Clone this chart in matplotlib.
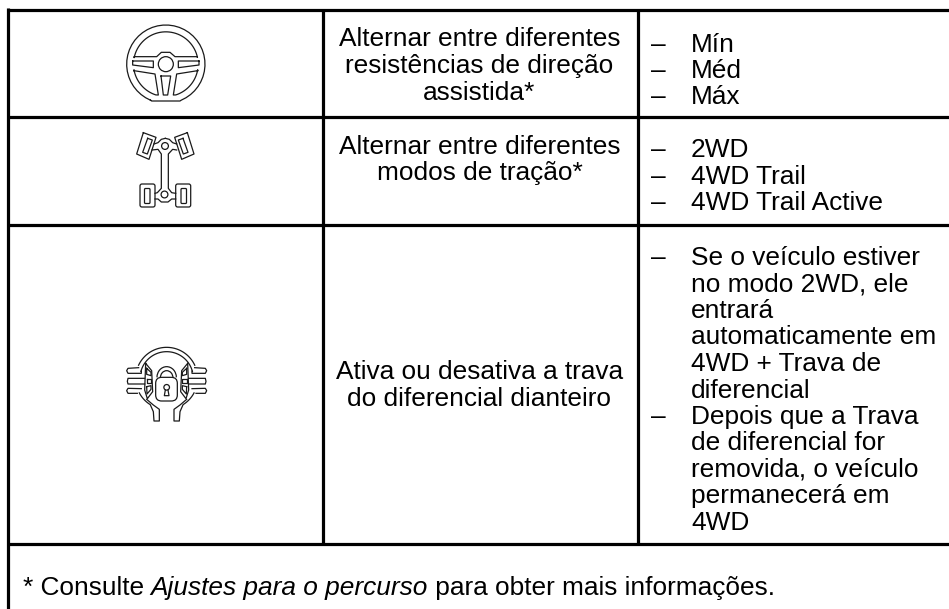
import matplotlib
matplotlib.use('Agg')
import matplotlib.pyplot as plt
from matplotlib.patches import Circle, FancyBboxPatch, Arc
import numpy as np

png_file_name = 'out.png'

middle_texts = [
    ['Alternar entre diferentes', 'resistências de direção', 'assistida*'],
    ['Alternar entre diferentes', 'modos de tração*'],
    ['Ativa ou desativa a trava', 'do diferencial dianteiro'],
]
middle_first_y = [46.5, 153.5, 379]

right_texts = [
    ['– Mín', '– Méd', '– Máx'],
    ['– 2WD', '– 4WD Trail', '– 4WD Trail Active'],
    ['– Se o veículo estiver', 'no modo 2WD, ele', 'entrará', 'automaticamente em',
     '4WD + Trava de', 'diferencial', '– Depois que a Trava', 'de diferencial for',
     'removida, o veículo', 'permanecerá em', '4WD'],
]
right_first_y = [51.5, 157, 265]

footer_parts = [('* Consulte ', 'normal'), ('Ajustes para o percurso', 'italic'),
                (' para obter mais informações.', 'normal')]

FONT = 'Liberation Sans'
SIZE = 18.9
LINE = 26.5
INK = '#1a1a1a'
LW = 0.9

fig = plt.figure(figsize=(9.49, 6.09), dpi=100)
ax = fig.add_axes([0, 0, 1, 1])
ax.set_xlim(0, 949)
ax.set_ylim(609, 0)
ax.axis('off')


def rule(xs, ys):
    ax.plot(xs, ys, color='black', lw=2.3, solid_capstyle='butt', zorder=3)


def poly(points, ox, oy, closed=True, mirror=None):
    # points are in 3x zoom coordinates, offset by ox, oy
    pts = np.array(points, dtype=float)
    if closed:
        pts = np.vstack([pts, pts[0]])
    ax.plot(ox + pts[:, 0] / 3, oy + pts[:, 1] / 3, color=INK, lw=LW, solid_joinstyle='round')
    if mirror is not None:
        ax.plot(ox + (2 * mirror - pts[:, 0]) / 3, oy + pts[:, 1] / 3, color=INK, lw=LW,
                solid_joinstyle='round')


def circle(x, y, r):
    ax.add_patch(Circle((x, y), r, fill=False, ec=INK, lw=LW))


def arc_pts(cx, cy, r, a0, a1, n=40):
    t = np.radians(np.linspace(a0, a1, n))
    return np.column_stack([cx + r * np.cos(t), cy + r * np.sin(t)])


def draw_wheel():
    cx, cy = 497.5, 192.5
    # outer rim with flat bottom
    rim = arc_pts(cx, cy, 117.5, 113, 67 + 360)
    poly(np.vstack([rim, [[540, 303], [455, 303]]]), 0, 0)
    top = arc_pts(cx, cy, 97, 192, 348)
    poly(np.vstack([top, [[592, 170], [525, 170], [510, 157], [484, 157], [470, 170], [402, 170]]]), 0, 0)
    circle(cx / 3, cy / 3, 7.5)
    poly([[398, 183], [460, 183], [460, 203], [398, 195]], 0, 0, mirror=497.5)
    low = arc_pts(cx, cy, 97, 108, 170)
    poly(np.vstack([[[402, 212], [465, 222], [475, 285]], low]), 0, 0, mirror=497.5)
    poly([[483, 228], [512, 228], [503, 285], [490, 285]], 0, 0)


def draw_drive():
    poly([[430, 398], [468, 412], [447, 478], [410, 462]], 0, 0, mirror=496)
    poly([[443, 415], [457, 420], [442, 462], [428, 457]], 0, 0, mirror=496)
    ax.add_patch(FancyBboxPatch((140, 184), 15, 23, boxstyle='round,pad=0,rounding_size=2',
                                fill=False, ec=INK, lw=LW))
    ax.add_patch(FancyBboxPatch((175.7, 184), 15, 23, boxstyle='round,pad=0,rounding_size=2',
                                fill=False, ec=INK, lw=LW))
    ax.add_patch(FancyBboxPatch((144.5, 188.5), 5.5, 15, boxstyle='round,pad=0,rounding_size=1',
                                fill=False, ec=INK, lw=LW))
    ax.add_patch(FancyBboxPatch((181, 188.5), 5.5, 15, boxstyle='round,pad=0,rounding_size=1',
                                fill=False, ec=INK, lw=LW))
    circle(165, 146, 3.4)
    circle(164.5, 194.5, 3.4)
    # chassis outline, left half then mirrored
    poly([[462, 432], [474, 428], [484, 418], [496, 415]], 0, 0, closed=False, mirror=496)
    poly([[456, 450], [474, 448], [484, 462], [484, 565], [472, 578], [465, 580]], 0, 0,
         closed=False)
    poly([[530, 450], [518, 448], [505, 462], [505, 565], [515, 578], [527, 580]], 0, 0,
         closed=False)
    poly([[465, 597], [474, 597], [484, 606], [504, 606], [515, 597], [527, 597]], 0, 0,
         closed=False)


def draw_lock():
    ox, oy = 100, 340
    m = 200
    outer = arc_pts(200, 115, 93, 205, 335)
    inner = arc_pts(200, 115, 80, 195, 345)
    poly(outer, ox, oy, closed=False)
    poly(inner, ox, oy, closed=False)
    poly([[116, 83], [84, 85], [80, 92], [84, 100], [124, 100], [124, 93]], ox, oy, closed=False, mirror=m)
    poly([[134, 115], [84, 115], [82, 124], [84, 132], [134, 132]], ox, oy, closed=False, mirror=m)
    poly([[124, 146], [84, 145], [80, 152], [84, 160], [112, 160]], ox, oy, closed=False, mirror=m)
    low = arc_pts(200, 115, 93, 152, 122)
    poly(np.vstack([low, [[160, 215], [162, 243], [178, 243], [178, 208], [160, 195], [140, 178]]]),
         ox, oy, closed=False, mirror=m)
    poly([[137, 70], [155, 92], [158, 155], [142, 176], [134, 150]], ox, oy, mirror=m)
    poly([[140, 85], [153, 97], [153, 107], [140, 103]], ox, oy, mirror=m)
    poly([[140, 116], [153, 116], [153, 128], [140, 128]], ox, oy, mirror=m)
    poly([[140, 140], [153, 137], [153, 148], [141, 162]], ox, oy, mirror=m)
    ax.add_patch(FancyBboxPatch((ox + 167 / 3, oy + 112 / 3), 65 / 3, 71 / 3,
                                boxstyle='round,pad=0,rounding_size=6', fill=False, ec=INK, lw=LW))
    ax.add_patch(Arc((ox + 200 / 3, oy + 112 / 3), 2 * 29 / 3, 2 * 32 / 3, theta1=180, theta2=360, ec=INK, lw=LW))
    ax.add_patch(Arc((ox + 200 / 3, oy + 114 / 3), 2 * 19 / 3, 2 * 22 / 3, theta1=180, theta2=360, ec=INK, lw=LW))
    circle(ox + 200 / 3, oy + 142 / 3, 2.8)
    poly([[196, 150], [193, 167], [207, 167], [204, 150]], ox, oy, closed=False)


def draw_texts():
    for lines, y0 in zip(middle_texts, middle_first_y):
        for i, line in enumerate(lines):
            ax.text(479.5, y0 + i * LINE, line, ha='center', va='baseline', family=FONT,
                    fontsize=SIZE, color='black')
    for lines, y0 in zip(right_texts, right_first_y):
        for i, line in enumerate(lines):
            y = y0 + i * LINE
            if line.startswith('– '):
                ax.text(651.5, y, '–', ha='left', va='baseline', family=FONT, fontsize=SIZE, color='black')
                line = line[2:]
            ax.text(691, y, line, ha='left', va='baseline', family=FONT, fontsize=SIZE, color='black')
    x = 23
    renderer = fig.canvas.get_renderer()
    for part, style in footer_parts:
        t = ax.text(x, 595, part.rstrip() if part.endswith(' ') else part, ha='left', va='baseline',
                    family=FONT, style=style, fontsize=SIZE, color='black')
        x = t.get_window_extent(renderer).x1
        if part.endswith(' '):
            x += 6.5


rule([7, 949], [9.7, 9.7])
rule([7, 949], [117, 117])
rule([7, 949], [224.5, 224.5])
rule([7, 949], [544, 544])
rule([8.5, 8.5], [8, 609])
rule([323.5, 323.5], [9, 544])
rule([638.5, 638.5], [9, 544])

draw_wheel()
draw_drive()
draw_lock()
draw_texts()

fig.savefig(png_file_name, dpi=100)
